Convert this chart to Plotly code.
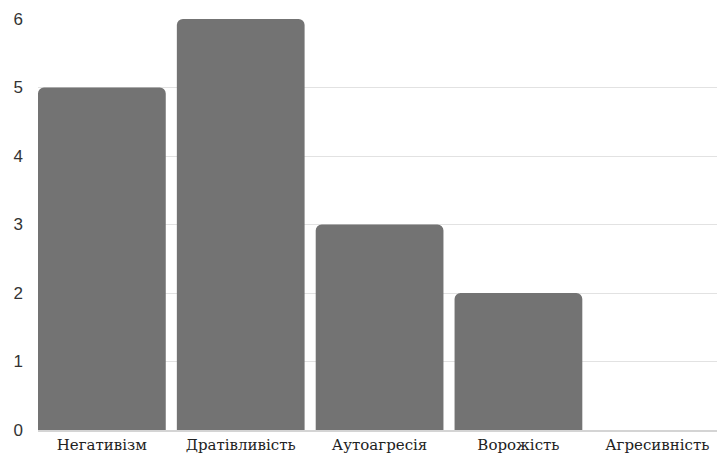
import plotly.graph_objects as go

categories = ["Негативізм", "Дратівливість", "Аутоагресія", "Ворожість", "Агресивність"]
values = [5, 6, 3, 2, 0]
y_ticks = [0, 1, 2, 3, 4, 5, 6]

fig = go.Figure(
    go.Bar(
        x=categories,
        y=values,
        marker=dict(color="#737373", cornerradius=6, line=dict(width=0)),
        width=0.92,
        hoverinfo="skip",
    )
)

fig.update_layout(
    width=717,
    height=455,
    margin=dict(l=38, r=0, t=19, b=25),
    paper_bgcolor="white",
    plot_bgcolor="white",
    showlegend=False,
    bargap=0.08,
)

fig.update_xaxes(
    range=[-0.46, 4.43],
    automargin=False,
    showgrid=False,
    showline=True,
    linecolor="#d4d4d4",
    linewidth=2,
    tickfont=dict(family="DejaVu Serif", size=15, color="#222222"),
    ticks="",
    ticklabelstandoff=0,
)

fig.update_yaxes(
    range=[0, 6],
    tickvals=y_ticks,
    automargin=False,
    showgrid=True,
    gridcolor="#e2e2e2",
    gridwidth=1,
    zeroline=False,
    showline=False,
    tickfont=dict(family="Liberation Sans", size=17, color="#333333"),
    ticks="",
    ticklabelstandoff=14,
)

fig.write_html("out.html")
